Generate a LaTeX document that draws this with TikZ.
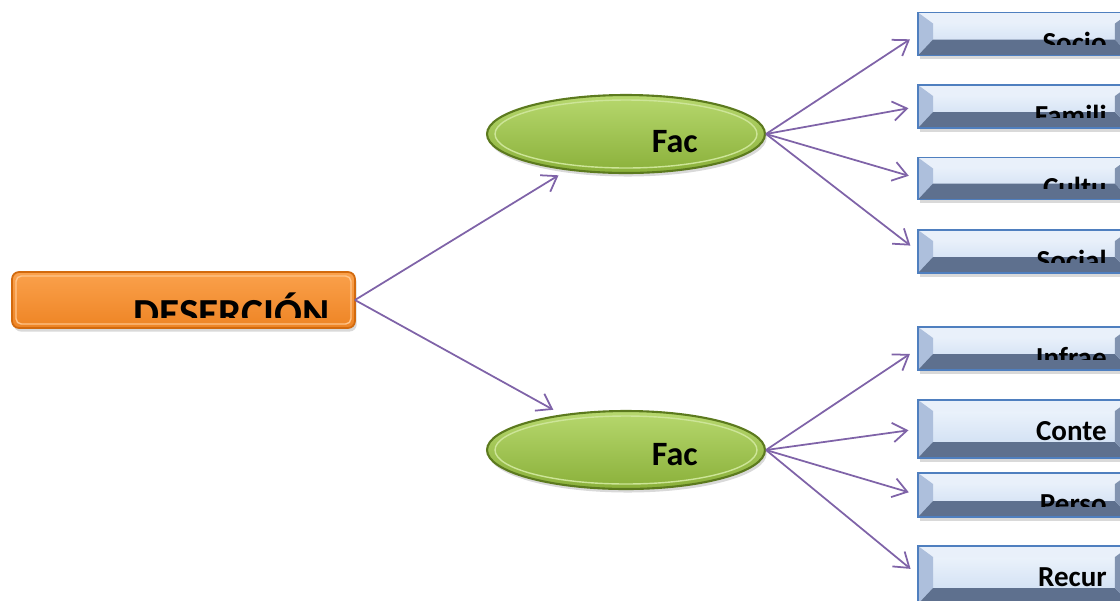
\documentclass[tikz,border=0pt]{standalone}
\usepackage{fontspec}
\setmainfont{Carlito}
\usetikzlibrary{arrows.meta,shapes.geometric,shadows}

\definecolor{linkpurple}{HTML}{7F63A8}
\definecolor{boxedge}{HTML}{4F7FBF}
\definecolor{boxfacetop}{HTML}{F2F7FD}
\definecolor{boxfacebot}{HTML}{C9DAF1}
\definecolor{boxtop}{HTML}{E9F0FA}
\definecolor{boxleft}{HTML}{ADBFDC}
\definecolor{boxbottom}{HTML}{5E708E}
\definecolor{boxright}{HTML}{8193B0}
\definecolor{orangetop}{HTML}{FAA14C}
\definecolor{orangebot}{HTML}{EE8424}
\definecolor{orangeedge}{HTML}{D26A0E}
\definecolor{orangelight}{HTML}{FFC48A}
\definecolor{greentop}{HTML}{B7D86E}
\definecolor{greenbot}{HTML}{8AB03A}
\definecolor{greenedge}{HTML}{5C7A1E}
\definecolor{greenlight}{HTML}{CDE598}

\tikzset{
  link/.style={->,draw=linkpurple,line width=1pt,shorten >=5.5pt},
  bevelbox/.style={rectangle,draw=boxedge,line width=1pt,top color=boxfacetop,bottom color=boxfacebot,
    minimum width=4.24cm,inner sep=0pt,outer sep=0pt,drop shadow={opacity=0.3,shadow xshift=1pt,shadow yshift=-2pt}},
  boxtext/.style={anchor=base east,inner sep=0pt,font=\fontsize{16.5}{18}\selectfont\bfseries},
  deserbox/.style={rectangle,rounded corners=4pt,draw=orangeedge,line width=1pt,top color=orangetop,bottom color=orangebot,
    minimum width=6.86cm,minimum height=1.12cm,inner sep=0pt,outer sep=0pt,drop shadow={opacity=0.3,shadow xshift=1pt,shadow yshift=-2pt}},
  facshape/.style={ellipse,draw=greenedge,line width=1.2pt,top color=greentop,bottom color=greenbot,
    minimum width=5.56cm,minimum height=1.56cm,inner sep=0pt,drop shadow={opacity=0.3,shadow xshift=1pt,shadow yshift=-2pt}},
  factext/.style={anchor=base east,inner sep=0pt,font=\fontsize{19.4}{22}\selectfont\bfseries}
}

\begin{document}
\begin{tikzpicture}[x=0.02cm,y=-0.02cm,>={Straight Barb[length=8pt,width=11pt]}]
  \clip (0,0) rectangle (1120,600);
  % bevels and clipped label of a box
  \def\bevel#1#2{
    \fill[boxtop] (#1.north west) -- (#1.north east) -- ([shift={(-15,11)}]#1.north east) -- ([shift={(15,11)}]#1.north west) -- cycle;
    \fill[boxleft] (#1.north west) -- ([shift={(15,11)}]#1.north west) -- ([shift={(15,-16)}]#1.south west) -- (#1.south west) -- cycle;
    \fill[boxbottom] (#1.south west) -- ([shift={(15,-16)}]#1.south west) -- ([shift={(-15,-16)}]#1.south east) -- (#1.south east) -- cycle;
    \fill[boxright] (#1.north east) -- ([shift={(-15,11)}]#1.north east) -- ([shift={(-15,-16)}]#1.south east) -- (#1.south east) -- cycle;
    \draw[boxedge,line width=1pt] (#1.north west) rectangle (#1.south east);
    \begin{scope}
      \clip (#1.north west) rectangle ([shift={(0,-11)}]#1.south east);
      \node[boxtext] (#1-t) at ([shift={(-23,40)}]#1.north east) {#2};
    \end{scope}}

  % left box
  \node[deserbox] (deser) at (183.5,300) {};
  \draw[orangelight,line width=0.8pt,rounded corners=3pt] ([shift={(4,4)}]deser.north west) rectangle ([shift={(-4,-4)}]deser.south east);
  \begin{scope}
    \clip (deser.north west) rectangle ([shift={(0,-11)}]deser.south east);
    \node[anchor=base east,inner sep=0pt,font=\fontsize{23.5}{26}\selectfont\bfseries] (deser-t) at ([shift={(-25,55)}]deser.north east) {DESERCIÓN};
  \end{scope}

  % ellipses
  \node[facshape] (facA) at (626,134) {};
  \draw[greenlight,line width=0.8pt] (facA.center) ellipse [x radius=2.62cm,y radius=0.68cm];
  \node[factext] (facA-t) at (698,152) {Fac};
  \node[facshape] (facB) at (626,450) {};
  \draw[greenlight,line width=0.8pt] (facB.center) ellipse [x radius=2.62cm,y radius=0.68cm];
  \node[factext] (facB-t) at (698,465) {Fac};

  % right boxes
  \node[bevelbox,minimum height=0.86cm] (socio) at (1024,34) {};
  \bevel{socio}{Socio}
  \node[bevelbox,minimum height=0.86cm] (famili) at (1024,106.5) {};
  \bevel{famili}{Famili}
  \node[bevelbox,minimum height=0.84cm] (cultu) at (1024,178.5) {};
  \bevel{cultu}{Cultu}
  \node[bevelbox,minimum height=0.86cm] (social) at (1024,251.5) {};
  \bevel{social}{Social}
  \node[bevelbox,minimum height=0.86cm] (infrae) at (1024,348.5) {};
  \bevel{infrae}{Infrae}
  \node[bevelbox,minimum height=1.16cm] (conte) at (1024,429) {};
  \bevel{conte}{Conte}
  \node[bevelbox,minimum height=0.88cm] (perso) at (1024,495) {};
  \bevel{perso}{Perso}
  \node[bevelbox,minimum height=1.16cm] (recur) at (1024,575) {};
  \bevel{recur}{Recur}

  % connectors
  \draw[link] (deser.east) -- (facA);
  \draw[link] (deser.east) -- (facB);
  \foreach \b in {socio,famili,cultu,social}
    \draw[link] (facA.east) -- (\b.west);
  \foreach \b in {infrae,conte,perso,recur}
    \draw[link] (facB.east) -- (\b.west);
\end{tikzpicture}
\end{document}
